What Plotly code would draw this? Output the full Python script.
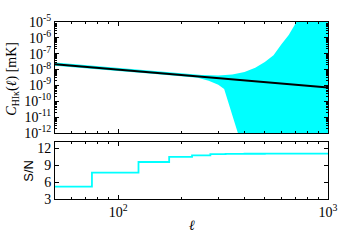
import plotly.graph_objects as go
from plotly.subplots import make_subplots

# multipole ell and the C_HI-kappa model curve [mK]
ell = [50, 75, 100, 150, 200, 250, 300, 400, 500, 600, 700, 800, 900, 1000]
cl = [2.2e-8, 1.4e-8, 1.0e-8, 6.3e-9, 4.5e-9, 3.6e-9, 2.9e-9, 2.1e-9,
      1.7e-9, 1.35e-9, 1.15e-9, 9.8e-10, 8.5e-10, 7.3e-10]

# upper / lower edge of the error band
ell_up = [50, 100, 150, 200, 250, 300, 350, 400, 450, 500, 550, 600, 650, 700, 720, 800, 1000]
cl_up = [2.8e-8, 1.25e-8, 7.8e-9, 5.6e-9, 4.6e-9, 4.2e-9, 4.8e-9, 7.0e-9, 1.3e-8,
         3.0e-8, 8.0e-8, 4.0e-7, 1.5e-6, 8.0e-6, 1.3e-5, 1e-4, 1e-3]
ell_lo = [50, 100, 150, 200, 240, 270, 300, 320, 340, 360, 372, 400, 1000]
cl_lo = [1.75e-8, 8.2e-9, 5.2e-9, 3.8e-9, 3.0e-9, 2.0e-9, 1.1e-9, 6.0e-10,
         5e-11, 4e-12, 1e-12, 1e-14, 1e-14]

# cumulative signal to noise (step edges)
ell_sn = [50, 75, 125, 175, 225, 275, 325, 400, 500, 600, 700, 800, 900, 1000]
sn = [5.2, 7.7, 9.6, 10.5, 10.8, 11.0, 11.05, 11.07, 11.08, 11.09, 11.1, 11.1, 11.1, 11.1]

ytick_vals = [10.0 ** k for k in range(-12, -4)]
ytick_text = ["10<sup>%d</sup>" % k for k in range(-12, -4)]
yminor = [m * 10.0 ** k for k in range(-12, -5) for m in range(2, 10)]
xminor = [60, 70, 80, 90, 200, 300, 400, 500, 600, 700, 800, 900]

fig = make_subplots(rows=2, cols=1, shared_xaxes=True, vertical_spacing=0.05,
                    row_heights=[0.66, 0.34])

band_x = ell_up + ell_lo[::-1]
band_y = cl_up + cl_lo[::-1]
fig.add_trace(go.Scatter(x=band_x, y=band_y, fill="toself", fillcolor="#00ffff",
                         mode="lines", line=dict(width=0), showlegend=False), row=1, col=1)
fig.add_trace(go.Scatter(x=ell, y=cl, mode="lines", line=dict(color="black", width=2),
                         showlegend=False), row=1, col=1)
fig.add_trace(go.Scatter(x=ell_sn, y=sn, mode="lines", line=dict(color="#00ffff", width=1.8, shape="hv"),
                         showlegend=False), row=2, col=1)

serif = "Liberation Serif"
axis_common = dict(showline=True, linecolor="black", linewidth=1, mirror="ticks",
                   ticks="inside", ticklen=4, tickcolor="black", showgrid=False, zeroline=False,
                   tickfont=dict(family=serif, size=14, color="black"))

xkw = dict(type="log", range=[1.699, 3.0], tickvals=[100, 1000],
           ticktext=["10<sup>2</sup>", "10<sup>3</sup>"], ticklabeloverflow="allow",
           minor=dict(ticks="inside", ticklen=2, tickvals=xminor, tickcolor="black"), **axis_common)
fig.update_xaxes(row=1, col=1, showticklabels=False, **xkw)
fig.update_xaxes(row=2, col=1, **xkw)

fig.update_yaxes(row=1, col=1, type="log", range=[-12, -5], tickvals=ytick_vals, ticktext=ytick_text,
                 minor=dict(ticks="inside", ticklen=2, tickvals=yminor, tickcolor="black"),
                 **axis_common)
fig.update_yaxes(row=2, col=1, range=[3, 13.2], tickvals=[3, 6, 9, 12], **axis_common)

# axis titles placed as annotations
fig.add_annotation(text="<i>C</i><sub>HIκ</sub>(<i>ℓ</i>) [mK]", xref="paper", yref="paper",
                   x=0, y=0.68, xshift=-42, textangle=-90, showarrow=False,
                   xanchor="center", yanchor="middle",
                   font=dict(family=serif, size=14, color="black"))
fig.add_annotation(text="S/N", xref="paper", yref="paper", x=0, y=0.16, xshift=-26,
                   textangle=-90, showarrow=False, xanchor="center", yanchor="middle",
                   font=dict(family="Liberation Sans", size=13, color="black"))
fig.add_annotation(text="<i>ℓ</i>", xref="paper", yref="paper", x=0.5, y=0, yshift=-26,
                   xanchor="center", yanchor="middle", showarrow=False,
                   font=dict(family=serif, size=14, color="black"))

fig.update_layout(width=350, height=240, margin=dict(l=55, r=16, t=13, b=41),
                  plot_bgcolor="white", paper_bgcolor="white")

fig.write_html("out.html", config={"displayModeBar": False},
               post_script="document.body.style.margin='0';")
